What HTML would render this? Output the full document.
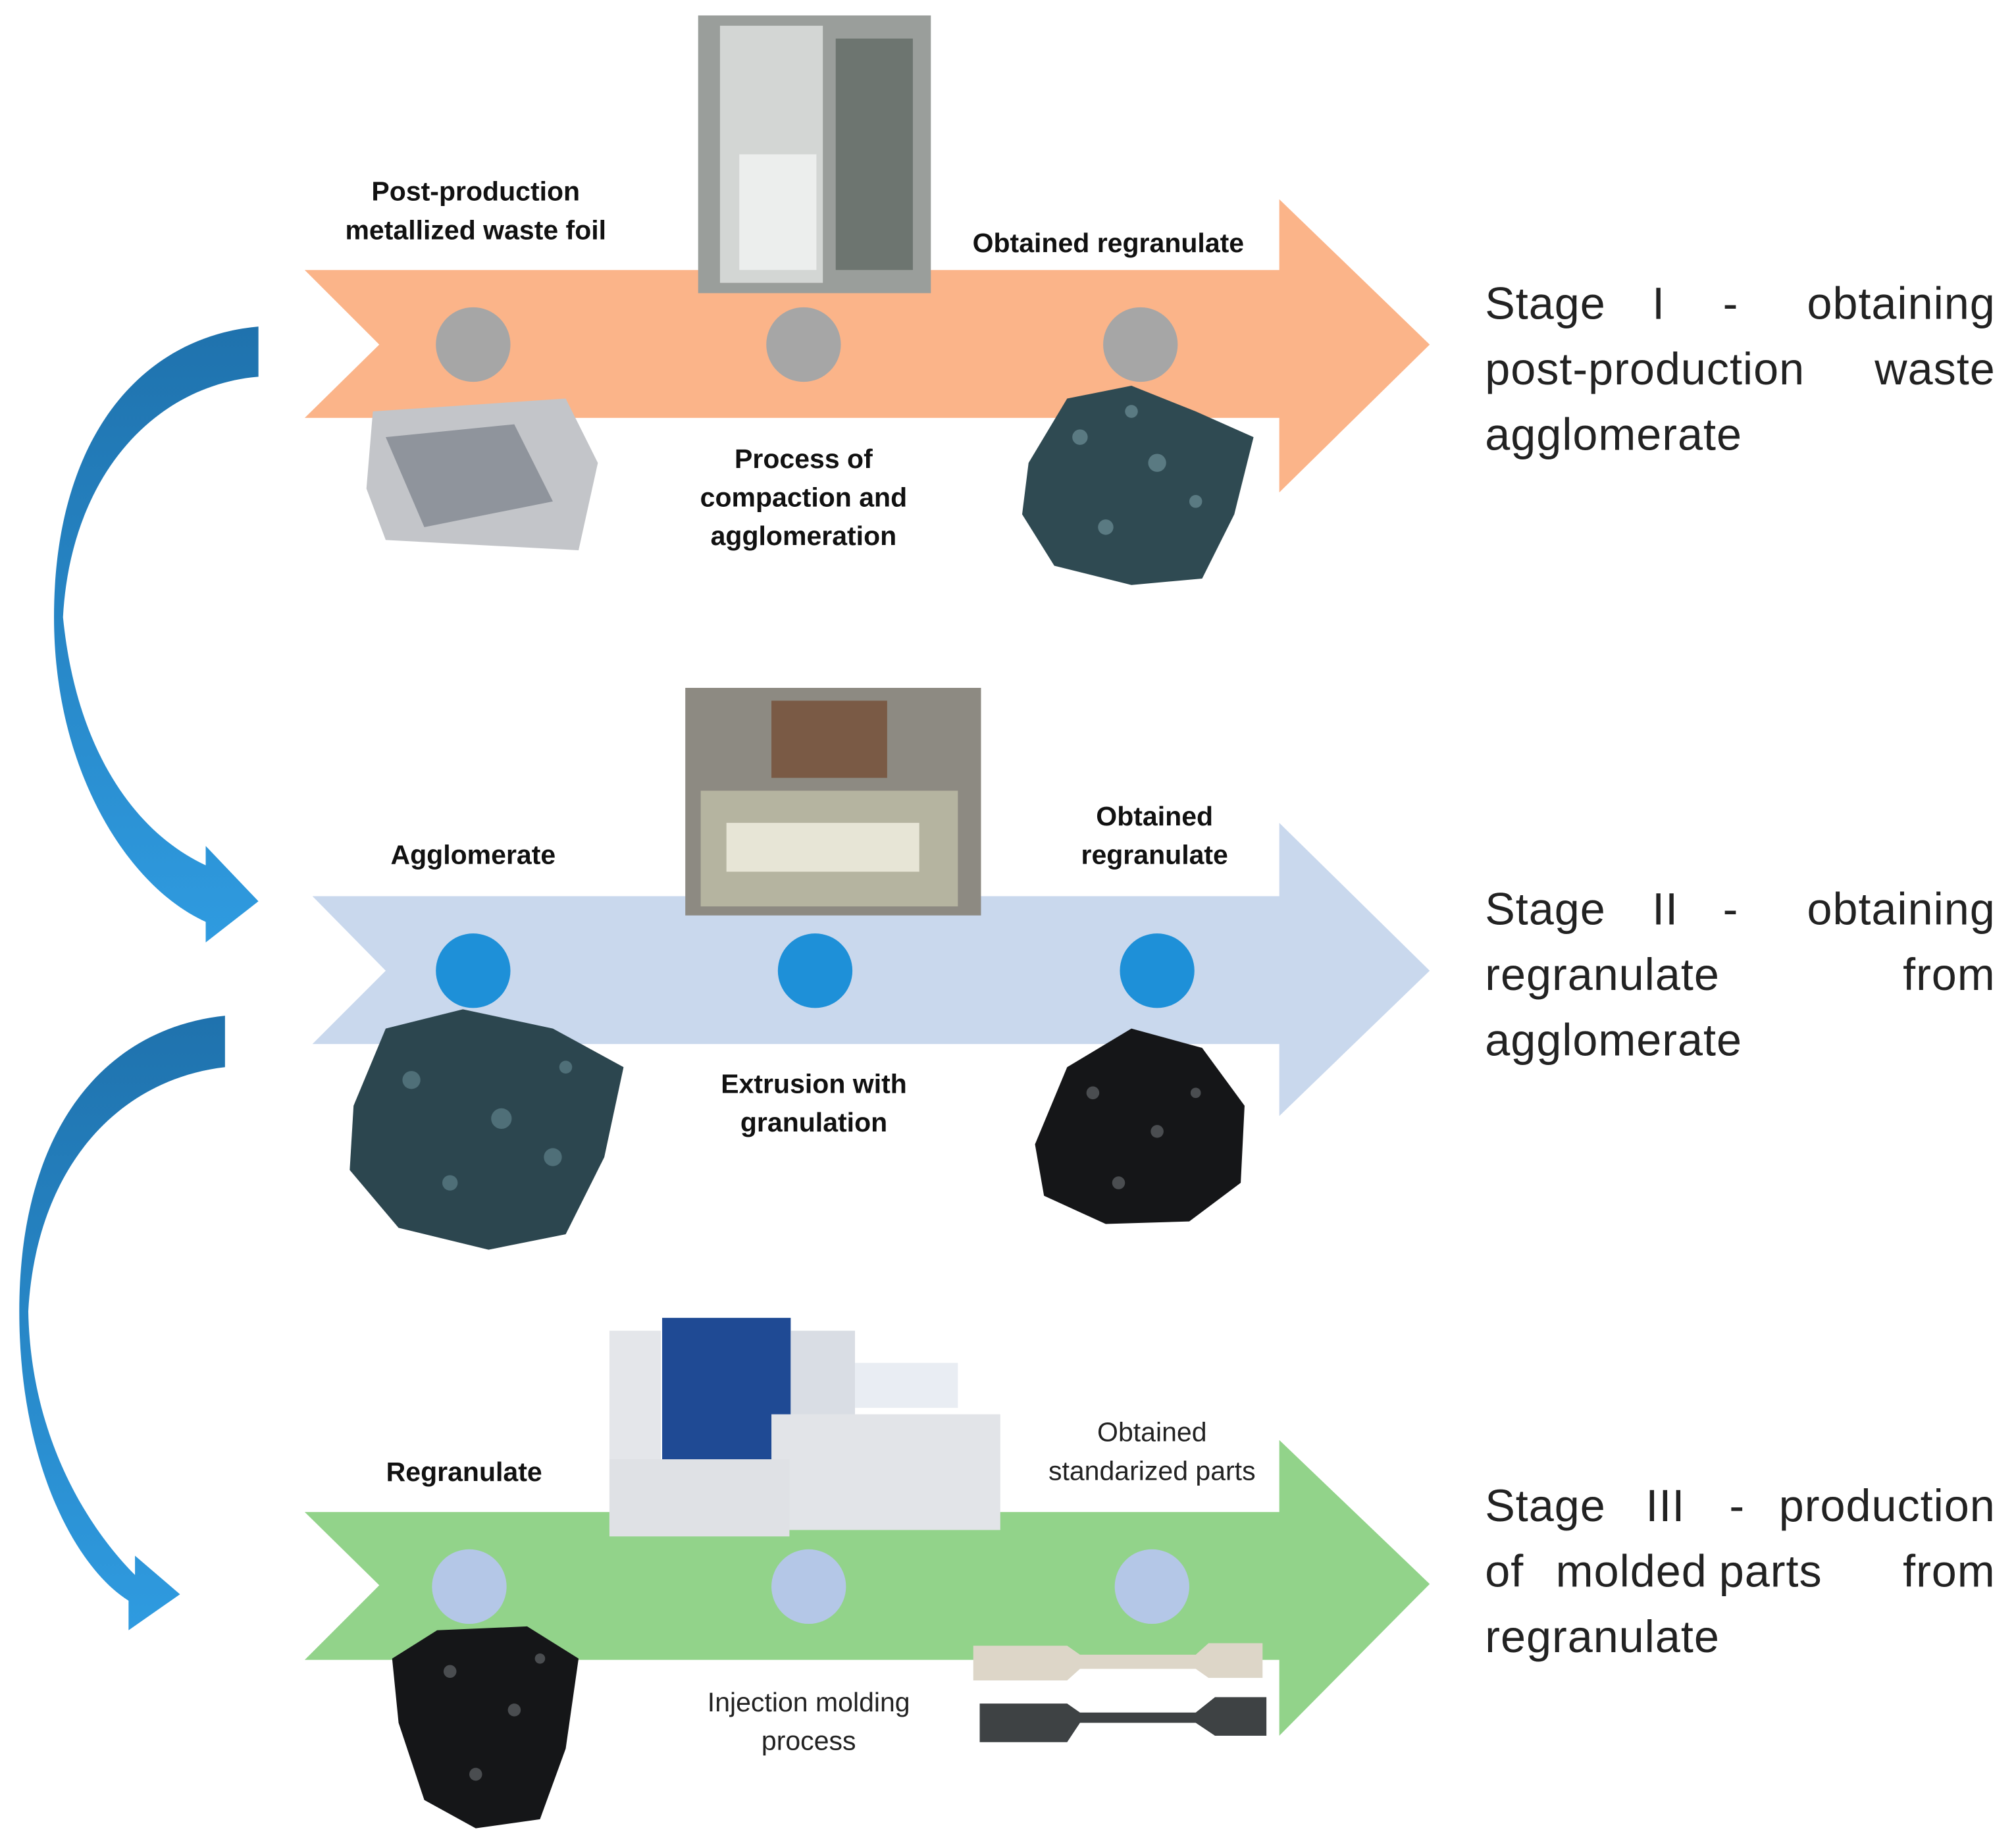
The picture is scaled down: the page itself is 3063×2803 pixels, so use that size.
<!DOCTYPE html>
<html><head><meta charset="utf-8"><style>
html,body{margin:0;padding:0;background:#fff}
svg{display:block}
text{font-family:"Liberation Sans",sans-serif}
.b{font-weight:bold;font-size:21px;fill:#111}
.n{font-size:21px;fill:#222}
.s{font-size:35px;fill:#222;letter-spacing:0.5px}
</style></head><body>
<svg width="3063" height="2803" viewBox="0 0 1568 1435" preserveAspectRatio="none" xmlns="http://www.w3.org/2000/svg">
<defs>
<linearGradient id="bg" x1="0" y1="0" x2="0" y2="1"><stop offset="0" stop-color="#1f72ad"/><stop offset="1" stop-color="#2f9be0"/></linearGradient>
</defs>
<rect width="1568" height="1435" fill="#fff"/>
<polygon points="237,210 995,210 995,155 1112,268 995,383 995,325 237,325 295,268" fill="#fbb489"/>
<polygon points="243,697 995,697 995,640 1112,755 995,868 995,812 243,812 300,755" fill="#c9d8ed"/>
<polygon points="237,1176 995,1176 995,1120 1112,1232 995,1350 995,1291 237,1291 295,1233" fill="#92d38a"/>
<path d="M201,254 C110,262 42,340 42,480 C42,600 100,690 160,717 L160,733 L201,701 L160,658 L160,673 C110,650 60,590 49,480 C55,370 120,300 201,293 Z" fill="url(#bg)"/>
<path d="M175,790 C80,800 15,880 15,1020 C15,1140 60,1220 100,1245 L100,1268 L140,1240 L105,1210 L105,1225 C70,1190 24,1120 22,1020 C28,910 90,840 175,830 Z" fill="url(#bg)"/>
<!-- stage 1 photos -->
<rect x="543" y="12" width="181" height="216" fill="#9a9e9b"/>
<rect x="560" y="20" width="80" height="200" fill="#d3d6d4"/>
<rect x="575" y="120" width="60" height="90" fill="#eceeed"/>
<rect x="650" y="30" width="60" height="180" fill="#6d7570"/>
<path d="M290,320 L440,310 L465,360 L450,428 L300,420 L285,380 Z" fill="#c3c5c9"/>
<path d="M300,340 L400,330 L430,390 L330,410 Z" fill="#8f949c"/>
<path d="M800,360 L830,310 L880,300 L930,320 L975,340 L960,400 L935,450 L880,455 L820,440 L795,400 Z" fill="#2f4a52"/>
<g fill="#5a7a82"><circle cx="840" cy="340" r="6"/><circle cx="900" cy="360" r="7"/><circle cx="860" cy="410" r="6"/><circle cx="930" cy="390" r="5"/><circle cx="880" cy="320" r="5"/></g>
<!-- stage 2 photos -->
<rect x="533" y="535" width="230" height="177" fill="#8d8a82"/>
<rect x="545" y="615" width="200" height="90" fill="#b5b4a0"/>
<rect x="565" y="640" width="150" height="38" fill="#e7e5d6"/>
<rect x="600" y="545" width="90" height="60" fill="#7a5a45"/>
<path d="M275,860 L300,800 L360,785 L430,800 L485,830 L470,900 L440,960 L380,972 L310,955 L272,910 Z" fill="#2c464f"/>
<g fill="#4f6f78"><circle cx="320" cy="840" r="7"/><circle cx="390" cy="870" r="8"/><circle cx="350" cy="920" r="6"/><circle cx="430" cy="900" r="7"/><circle cx="440" cy="830" r="5"/></g>
<path d="M805,890 L830,830 L880,800 L935,815 L968,860 L965,920 L925,950 L860,952 L812,930 Z" fill="#151618"/>
<g fill="#4a4d50"><circle cx="850" cy="850" r="5"/><circle cx="900" cy="880" r="5"/><circle cx="870" cy="920" r="5"/><circle cx="930" cy="850" r="4"/></g>
<!-- stage 3 photos -->
<rect x="474" y="1035" width="40" height="155" fill="#e4e6ea"/>
<rect x="515" y="1025" width="100" height="110" fill="#1f4a94"/>
<rect x="615" y="1035" width="50" height="90" fill="#d9dde4"/>
<rect x="665" y="1060" width="80" height="35" fill="#e9edf3"/>
<rect x="600" y="1100" width="178" height="90" fill="#e2e4e8"/>
<rect x="474" y="1135" width="140" height="60" fill="#dfe1e5"/>
<path d="M305,1290 L340,1268 L410,1265 L450,1290 L440,1360 L420,1415 L370,1422 L330,1400 L310,1340 Z" fill="#151618"/>
<g fill="#4a4d50"><circle cx="350" cy="1300" r="5"/><circle cx="400" cy="1330" r="5"/><circle cx="370" cy="1380" r="5"/><circle cx="420" cy="1290" r="4"/></g>
<path d="M757,1280 L830,1280 L840,1287 L930,1287 L940,1278 L982,1278 L982,1305 L940,1305 L930,1298 L840,1298 L830,1307 L757,1307 Z" fill="#ddd6c8"/>
<path d="M762,1325 L830,1325 L840,1332 L930,1332 L945,1320 L985,1320 L985,1350 L945,1350 L930,1340 L840,1340 L830,1355 L762,1355 Z" fill="#3e4244"/>
<g fill="#a6a6a6"><circle cx="368" cy="268" r="29"/><circle cx="625" cy="268" r="29"/><circle cx="887" cy="268" r="29"/></g>
<g fill="#1e90d8"><circle cx="368" cy="755" r="29"/><circle cx="634" cy="755" r="29"/><circle cx="900" cy="755" r="29"/></g>
<g fill="#b4c7e7"><circle cx="365" cy="1234" r="29"/><circle cx="629" cy="1234" r="29"/><circle cx="896" cy="1234" r="29"/></g>
<text class="b" x="370" y="156" text-anchor="middle">Post-production</text>
<text class="b" x="370" y="186" text-anchor="middle">metallized waste foil</text>
<text class="b" x="862" y="196" text-anchor="middle">Obtained regranulate</text>
<text class="b" x="625" y="364" text-anchor="middle">Process of</text>
<text class="b" x="625" y="394" text-anchor="middle">compaction and</text>
<text class="b" x="625" y="424" text-anchor="middle">agglomeration</text>
<text class="b" x="368" y="672" text-anchor="middle">Agglomerate</text>
<text class="b" x="898" y="642" text-anchor="middle">Obtained</text>
<text class="b" x="898" y="672" text-anchor="middle">regranulate</text>
<text class="b" x="633" y="850" text-anchor="middle">Extrusion with</text>
<text class="b" x="633" y="880" text-anchor="middle">granulation</text>
<text class="b" x="361" y="1152" text-anchor="middle">Regranulate</text>
<text class="n" x="896" y="1121" text-anchor="middle">Obtained</text>
<text class="n" x="896" y="1151" text-anchor="middle">standarized parts</text>
<text class="n" x="629" y="1331" text-anchor="middle">Injection molding</text>
<text class="n" x="629" y="1361" text-anchor="middle">process</text>
<text class="s" x="1155" y="248">Stage</text><text class="s" x="1285" y="248">I</text><text class="s" x="1340" y="248">-</text><text class="s" x="1552" y="248" text-anchor="end">obtaining</text>
<text class="s" x="1155" y="299">post-production</text><text class="s" x="1552" y="299" text-anchor="end">waste</text>
<text class="s" x="1155" y="350">agglomerate</text>
<text class="s" x="1155" y="719">Stage</text><text class="s" x="1285" y="719">II</text><text class="s" x="1340" y="719">-</text><text class="s" x="1552" y="719" text-anchor="end">obtaining</text>
<text class="s" x="1155" y="770">regranulate</text><text class="s" x="1552" y="770" text-anchor="end">from</text>
<text class="s" x="1155" y="821">agglomerate</text>
<text class="s" x="1155" y="1183">Stage</text><text class="s" x="1280" y="1183">III</text><text class="s" x="1345" y="1183">-</text><text class="s" x="1552" y="1183" text-anchor="end">production</text>
<text class="s" x="1155" y="1234">of</text><text class="s" x="1210" y="1234">molded</text><text class="s" x="1337" y="1234">parts</text><text class="s" x="1552" y="1234" text-anchor="end">from</text>
<text class="s" x="1155" y="1285">regranulate</text>
</svg>
</body></html>
